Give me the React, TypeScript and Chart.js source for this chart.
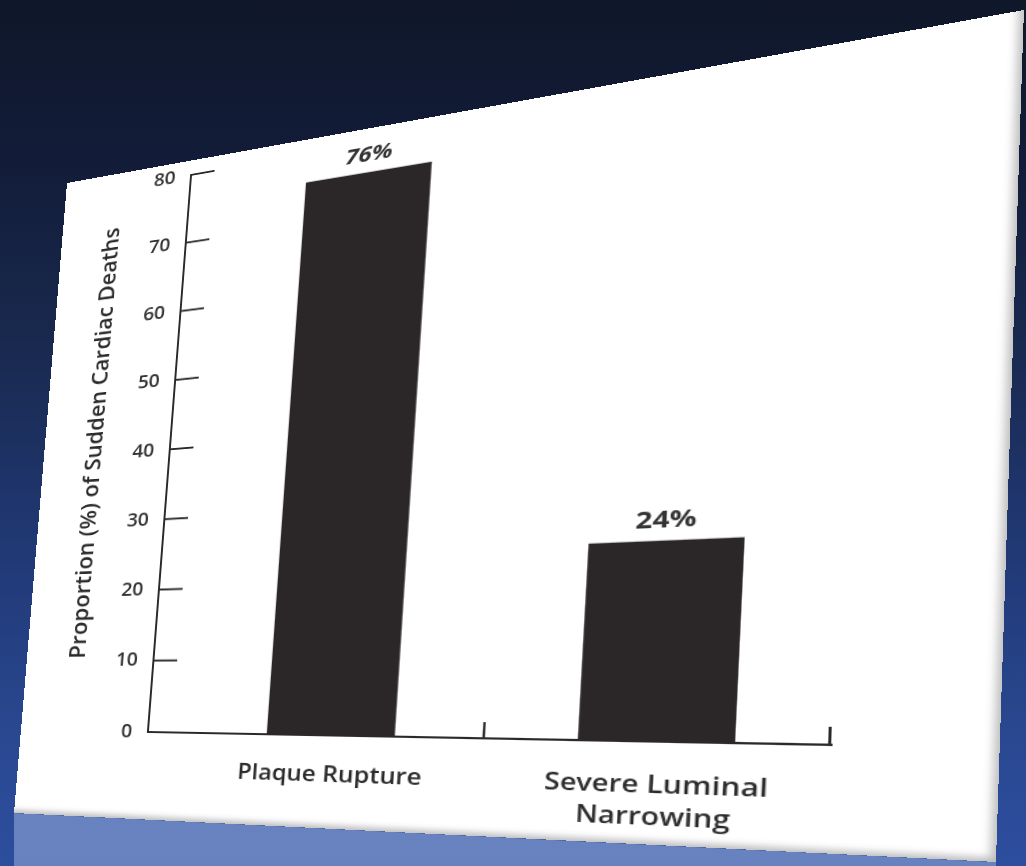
import { useEffect, useRef } from "react";
import { Chart, registerables } from "chart.js";

Chart.register(...registerables);

// ---- data ----
const categories = ["Plaque Rupture", "Severe Luminal Narrowing"];
const categoryLines = [["Plaque Rupture"], ["Severe Luminal", "Narrowing"]];
const values = [76, 24];
const valueLabels = ["76%", "24%"];
const valueLabelItalic = [true, false];
const yTickValues = [0, 10, 20, 30, 40, 50, 60, 70, 80];
const yTitle = "Proportion (%) of Sudden Cardiac Deaths";

// ---- layout (photo of a tilted card) ----
const CARD_W = 800;
const CARD_H = 700;
const QUAD = [
  [67, 183],
  [1024, 10],
  [996, 862],
  [14, 813],
];
const X_MIN = -0.658;
const X_MAX = 1.465;
const Y_TITLE_X = 56;
const Y_TITLE_SHIFT = -16;

function cardTransform(): string {
  const [[x0, y0], [x1, y1], [x2, y2], [x3, y3]] = QUAD;
  const dx1 = x1 - x2, dx2 = x3 - x2, dx3 = x0 - x1 + x2 - x3;
  const dy1 = y1 - y2, dy2 = y3 - y2, dy3 = y0 - y1 + y2 - y3;
  const den = dx1 * dy2 - dx2 * dy1;
  const g = (dx3 * dy2 - dx2 * dy3) / den;
  const h = (dx1 * dy3 - dx3 * dy1) / den;
  const a = x1 - x0 + g * x1;
  const b = x3 - x0 + h * x3;
  const c = x0;
  const d = y1 - y0 + g * y1;
  const e = y3 - y0 + h * y3;
  const f = y0;
  const m = [
    a / CARD_W, d / CARD_W, 0, g / CARD_W,
    b / CARD_H, e / CARD_H, 0, h / CARD_H,
    0, 0, 1, 0,
    c, f, 0, 1,
  ];
  return `matrix3d(${m.join(",")})`;
}

const inkColor = "#2a2a2a";

const decorPlugin = {
  id: "decor",
  afterDatasetsDraw(chart: any) {
    const { ctx, chartArea, scales } = chart;
    const ys = scales.y;
    const xs = scales.x;
    ctx.save();
    ctx.strokeStyle = inkColor;
    ctx.lineWidth = 2;
    // inward y ticks
    ys.ticks.forEach((t: any) => {
      if (t.value === 0) return;
      const py = ys.getPixelForValue(t.value);
      ctx.beginPath();
      ctx.moveTo(chartArea.left, py);
      ctx.lineTo(chartArea.left + 24, py);
      ctx.stroke();
    });
    // inward x ticks at category boundaries
    categories.forEach((_, i) => {
      const px = Math.min(xs.getPixelForValue(i + 0.5), chartArea.right - 1);
      ctx.beginPath();
      ctx.moveTo(px, chartArea.bottom);
      ctx.lineTo(px, chartArea.bottom - 15);
      ctx.stroke();
    });
    // value labels above bars
    const meta = chart.getDatasetMeta(0);
    ctx.fillStyle = "#333";
    ctx.textAlign = "center";
    ctx.textBaseline = "middle";
    meta.data.forEach((bar: any, i: number) => {
      ctx.font = `${valueLabelItalic[i] ? "italic " : ""}700 22px "Open Sans"`;
      ctx.fillText(valueLabels[i], bar.x, bar.y - 18);
    });
    // y axis title
    ctx.save();
    ctx.translate(Y_TITLE_X, (chartArea.top + chartArea.bottom) / 2 + Y_TITLE_SHIFT);
    ctx.rotate(-Math.PI / 2);
    ctx.fillStyle = "#2b2b2b";
    ctx.font = `600 24px "Open Sans"`;
    ctx.fillText(yTitle, 0, 0);
    ctx.restore();
    ctx.restore();
  },
};

function ChartCard() {
  const ref = useRef<HTMLCanvasElement | null>(null);
  useEffect(() => {
    if (!ref.current) return;
    const chart = new Chart(ref.current, {
      type: "bar",
      data: {
        datasets: [
          {
            data: values.map((v, i) => ({ x: i, y: v })),
            backgroundColor: "#2b2627",
            borderWidth: 0,
            barPercentage: 0.436,
            categoryPercentage: 1,
          },
        ],
      },
      options: {
        animation: false,
        responsive: false,
        maintainAspectRatio: false,
        devicePixelRatio: 1,
        layout: { padding: { left: 0, top: 16, right: 106, bottom: 0 } },
        plugins: { legend: { display: false }, tooltip: { enabled: false } },
        scales: {
          x: {
            type: "linear",
            min: X_MIN,
            max: X_MAX,
            offset: false,
            afterFit: (s: any) => {
              s.height = 90;
            },
            afterBuildTicks: (s: any) => {
              s.ticks = categories.map((_, i) => ({ value: i }));
            },
            grid: { display: true, offset: false, drawOnChartArea: false, drawTicks: false },
            border: { display: true, color: inkColor, width: 2 },
            ticks: {
              autoSkip: false,
              maxRotation: 0,
              padding: 24,
              color: "#2b2b2b",
              font: { family: "Open Sans", size: 22, weight: "600", lineHeight: 1.3 },
              callback: (v: any) => categoryLines[Math.round(v)] ?? "",
            },
          },
          y: {
            min: yTickValues[0],
            max: yTickValues[yTickValues.length - 1],
            afterFit: (s: any) => {
              s.width = 135;
              s.paddingTop = 0;
              s.paddingBottom = 0;
            },
            afterBuildTicks: (s: any) => {
              s.ticks = yTickValues.map((v) => ({ value: v }));
            },
            grid: { display: true, drawOnChartArea: false, drawTicks: false },
            border: { display: true, color: inkColor, width: 2 },
            ticks: {
              padding: 16,
              color: "#333",
              font: { family: "Open Sans", size: 20, weight: "600" },
            },
            title: { display: false },
          },
        },
      },
      plugins: [decorPlugin],
    });
    return () => chart.destroy();
  }, []);
  return <canvas ref={ref} width={CARD_W} height={CARD_H} style={{ display: "block" }} />;
}

export default function App() {
  const [, , br, bl] = QUAD;
  return (
    <div
      style={{
        position: "fixed",
        inset: 0,
        overflow: "hidden",
        background:
          "linear-gradient(180deg, #0f1729 0%, #121c38 18%, #19294f 40%, #213a77 65%, #2a4891 85%, #2d4d9e 100%)",
      }}
    >
      <div
        style={{
          position: "absolute",
          inset: 0,
          clipPath: `polygon(${bl[0]}px ${bl[1]}px, ${br[0]}px ${br[1]}px, ${br[0]}px 866px, ${bl[0]}px 866px)`,
          background: "linear-gradient(180deg, #7089c4 0%, #6882c0 100%)",
        }}
      />
      <div
        style={{
          position: "absolute",
          left: 0,
          top: 0,
          width: CARD_W,
          height: CARD_H,
          background: "#ffffff",
          transformOrigin: "0 0",
          transform: cardTransform(),
          boxShadow: "inset -6px -6px 6px -3px rgba(0,0,0,0.28)",
        }}
      >
        <ChartCard />
      </div>
    </div>
  );
}
